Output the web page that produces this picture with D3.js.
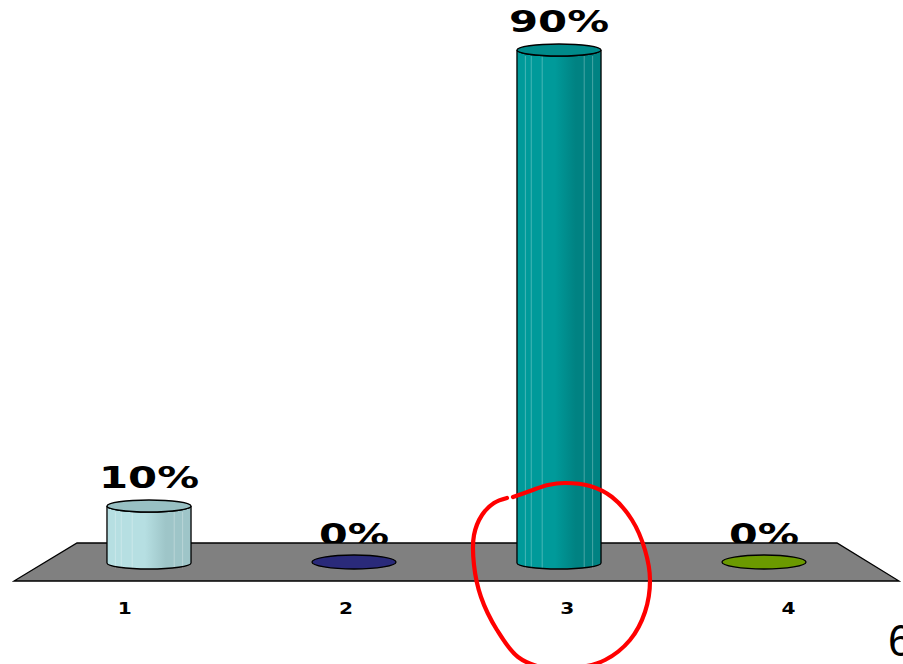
<!DOCTYPE html>
<html><head><meta charset="utf-8">
<script src="https://cdn.jsdelivr.net/npm/d3@7"></script>
<style>html,body{margin:0;padding:0;background:#fff;overflow:hidden}</style>
</head><body><svg id="c" width="903" height="664"></svg>
<script>
const categories = ["1","2","3","4"];
const values = [10, 0, 90, 0];
const valueLabels = ["10%","0%","90%","0%"];
const barColors = ["#b6dfe2","#2a2a7a","#009a9a","#6b9a00"];
const capColors = ["#98c0c3","#2a2a7a","#008a8a","#6b9a00"];
const darkColors = ["#9ec5c8","#2a2a7a","#008282","#6b9a00"];
const pageNumber = "6";

const svg = d3.select("#c");
const W = 903, H = 664;
const baseY = 563;
const xBack = d3.scaleBand().domain(categories).range([46.5, 866.5]).paddingInner(0.59).paddingOuter(0.295);
const xFront = d3.scaleBand().domain(categories).range([14, 899]);
const y = d3.scaleLinear().domain([0, 100]).range([baseY, baseY - 570]);

const defs = svg.append("defs");
categories.forEach((c, i) => {
  const g = defs.append("linearGradient").attr("id", "g" + i).attr("x1", 0).attr("x2", 1).attr("y1", 0).attr("y2", 0);
  g.append("stop").attr("offset", "0%").attr("stop-color", barColors[i]);
  g.append("stop").attr("offset", "45%").attr("stop-color", barColors[i]);
  g.append("stop").attr("offset", "70%").attr("stop-color", darkColors[i]);
  g.append("stop").attr("offset", "100%").attr("stop-color", darkColors[i]);
});

// value labels (drawn before floor; floor overlaps bottoms of 0% labels)
svg.append("g").selectAll("text").data(values).join("text")
  .attr("x", (d, i) => xBack(categories[i]) + xBack.bandwidth() / 2)
  .attr("y", d => y(d) - 18)
  .attr("text-anchor", "middle")
  .attr("font-family", "DejaVu Sans, Verdana, sans-serif")
  .attr("font-weight", "bold")
  .attr("font-size", 31)
  .attr("textLength", (d, i) => valueLabels[i].length === 3 ? 100 : 70)
  .attr("lengthAdjust", "spacingAndGlyphs")
  .attr("fill", "#000")
  .text((d, i) => valueLabels[i]);

// floor
const floorPts = [[77, 543], [837, 543], [899, 581], [14, 581]];
svg.append("path").attr("d", "M" + floorPts.map(p => p.join(",")).join("L") + "Z")
  .attr("fill", "#808080").attr("stroke", "#000").attr("stroke-width", 1.3);

// bars
const ry = 6;
const bars = svg.append("g");
values.forEach((v, i) => {
  const x0 = xBack(categories[i]), w = xBack.bandwidth(), cx = x0 + w / 2, rx = w / 2;
  const top = y(v);
  const g = bars.append("g");
  if (v > 0) {
    const d = `M${x0},${top} L${x0},${baseY} A${rx},${ry} 0 0 0 ${x0 + w},${baseY} L${x0 + w},${top} A${rx},${ry} 0 0 1 ${x0},${top} Z`;
    g.append("path").attr("d", d).attr("fill", `url(#g${i})`).attr("stroke", "none");
    [0.1, 0.17, 0.3, 0.8, 0.9].forEach(f => {
      g.append("line").attr("x1", x0 + f * w).attr("x2", x0 + f * w)
        .attr("y1", top + ry).attr("y2", baseY + ry * 0.9)
        .attr("stroke", "rgba(255,255,255,0.28)").attr("stroke-width", 1);
    });
    g.append("path").attr("d", d).attr("fill", "none").attr("stroke", "#000").attr("stroke-width", 1.3);
    g.append("ellipse").attr("cx", cx).attr("cy", top).attr("rx", rx).attr("ry", ry)
      .attr("fill", capColors[i]).attr("stroke", "#000").attr("stroke-width", 1.3);
  } else {
    g.append("ellipse").attr("cx", cx).attr("cy", baseY - 1).attr("rx", rx).attr("ry", 7)
      .attr("fill", barColors[i]).attr("stroke", "#000").attr("stroke-width", 1.3);
  }
});

// category labels
svg.append("g").selectAll("text").data(categories).join("text")
  .attr("x", d => xFront(d) + xFront.bandwidth() / 2)
  .attr("y", 614)
  .attr("text-anchor", "middle")
  .attr("font-family", "DejaVu Sans, Verdana, sans-serif")
  .attr("font-weight", "bold")
  .attr("font-size", 15)
  .attr("textLength", 14)
  .attr("lengthAdjust", "spacingAndGlyphs")
  .text(d => d);

// red hand-drawn circle annotation
const circlePts = [[513,497],[530,491],[548,485],[565,483],[590,486],[612,497],[632,520],[645,550],[650,580],[645,612],[630,640],[605,660],[575,668],[545,668],[518,657],[497,630],[481,597],[474,565],[474,535],[482,515],[494,503],[507,498]];
svg.append("path").attr("d", d3.line().curve(d3.curveCatmullRom)(circlePts))
  .attr("fill", "none").attr("stroke", "#ff0000").attr("stroke-width", 4.2).attr("stroke-linecap", "round");

// page number
svg.append("text").attr("x", 888).attr("y", 656)
  .attr("font-family", "Liberation Sans, Arial, sans-serif").attr("font-size", 44).attr("fill", "#000")
  .text(pageNumber);
</script></body></html>
